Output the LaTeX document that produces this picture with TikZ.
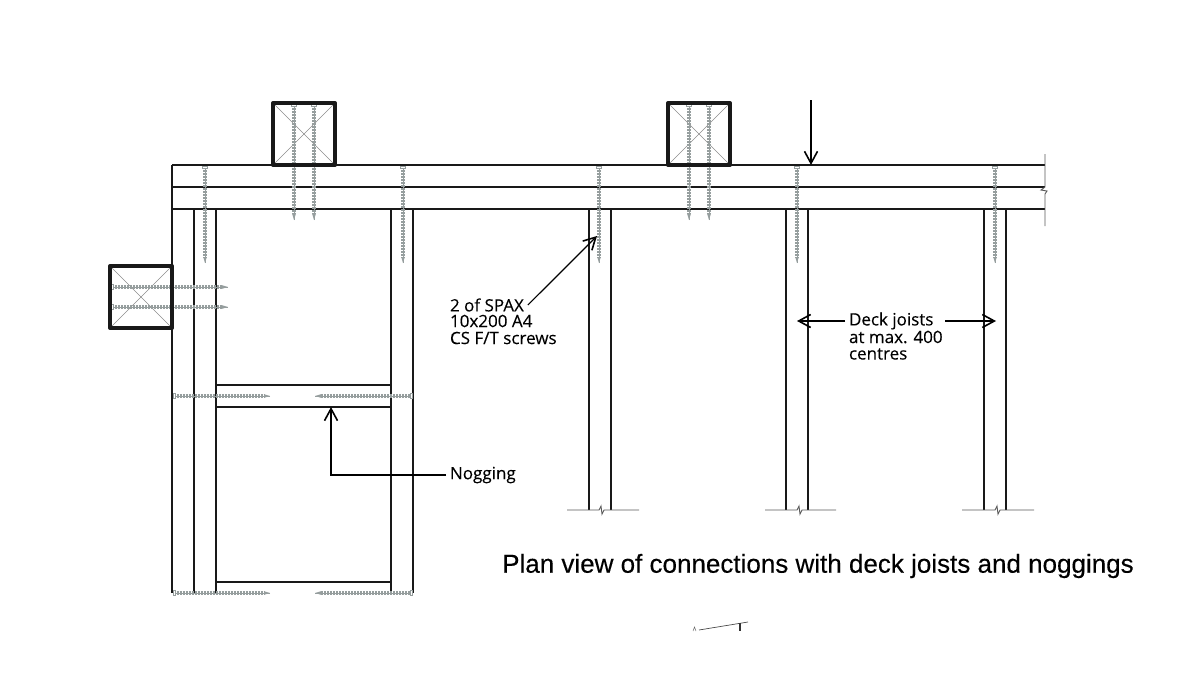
\documentclass[tikz,border=0pt]{standalone}
\usepackage{fontspec}
\setmainfont[FakeBold=0.2]{Open Sans}
\newfontfamily\titlefont[FakeBold=0.3]{Liberation Sans}
\usetikzlibrary{arrows.meta}
\definecolor{screwgrey}{RGB}{150,158,158}
\begin{document}
\begin{tikzpicture}[x=1pt,y=-1pt,>={Straight Barb[length=12pt,width=13pt,line width=1.6pt]},
    timber/.style={line width=1.6pt,black!90},
    post/.style={line width=4pt,black!90,line join=round},
    cross/.style={line width=0.5pt,black!45},
    leader/.style={line width=1.2pt},
    label text/.style={anchor=west,inner sep=0pt,outer sep=4pt,font=\fontsize{17}{18}\selectfont},
    break line/.style={line width=0.9pt,black!65},
    pics/screw/.style={code={
        \draw[line width=0.5pt,screwgrey] (0,-2.5) -- (2,-2.5) -- (2,2.5) -- (0,2.5) -- cycle;
        \draw[line width=4.2pt,screwgrey,dash pattern=on 0.9pt off 0.6pt] (2,0) -- (#1-6,0);
        \draw[line width=0.5pt,screwgrey] (2,0) -- (#1,0);
        \fill[screwgrey] (#1-6,-1.8) -- (#1,0) -- (#1-6,1.8) -- cycle;
    }}]

    \useasboundingbox (0,0) rectangle (1200,675);

    \draw[timber] (172,165) -- (1045,165);
    \draw[timber] (172,187) -- (1045,187);
    \draw[timber] (172,209) -- (1045,209);
    \draw[timber] (172,165) -- (172,593);
    \draw[timber] (194,209) -- (194,593);
    \draw[timber] (216,209) -- (216,593);
    \draw[timber] (391,209) -- (391,593);
    \draw[timber] (413,209) -- (413,593);
    \draw[timber] (589,209) -- (589,510);
    \draw[timber] (611,209) -- (611,510);
    \draw[timber] (786,209) -- (786,510);
    \draw[timber] (808,209) -- (808,510);
    \draw[timber] (984,209) -- (984,510);
    \draw[timber] (1006,209) -- (1006,510);
    \draw[timber] (216,385) -- (391,385);
    \draw[timber] (216,407) -- (391,407);
    \draw[timber] (216,582) -- (391,582);

    \draw[break line] (1045,154) -- (1045,187) -- (1041,190) -- (1047,191) -- (1045,194) -- (1045,226);
    \draw[break line] (567,510) -- (599,510) -- (601,506) -- (602,514) -- (604,510) -- (639,510);
    \draw[break line] (765,510) -- (797,510) -- (799,506) -- (800,514) -- (802,510) -- (836,510);
    \draw[break line] (962,510) -- (995,510) -- (997,506) -- (998,514) -- (1000,510) -- (1034,510);

    \draw[cross] (273,103) -- (335,165);
    \draw[cross] (335,103) -- (273,165);
    \draw[cross] (668,103) -- (730,165);
    \draw[cross] (730,103) -- (668,165);
    \draw[cross] (110,266) -- (172,328);
    \draw[cross] (172,266) -- (110,328);

    \pic[rotate=-90] at (205,166) {screw=97};
    \pic[rotate=-90] at (403,166) {screw=97};
    \pic[rotate=-90] at (599,166) {screw=97};
    \pic[rotate=-90] at (797,166) {screw=97};
    \pic[rotate=-90] at (995,166) {screw=97};
    \pic[rotate=-90] at (294,104) {screw=116};
    \pic[rotate=-90] at (314,104) {screw=116};
    \pic[rotate=-90] at (689,104) {screw=116};
    \pic[rotate=-90] at (709,104) {screw=116};
    \pic at (111,287) {screw=117};
    \pic at (111,307) {screw=117};
    \pic at (173,396) {screw=97};
    \pic at (173,593) {screw=97};
    \pic[rotate=180] at (412,396) {screw=97};
    \pic[rotate=180] at (412,593) {screw=97};

    \draw[post] (273,103) rectangle (335,165);
    \draw[post] (668,103) rectangle (730,165);
    \draw[post] (110,266) rectangle (172,328);

    \node[label text] (spax1) at (446,305) {2 of SPAX};
    \node[label text] (spax2) at (446,321) {10x200 A4};
    \node[label text] (spax3) at (446,338) {CS F/T screws};
    \node[label text] (deck1) at (845,321) {Deck joists};
    \node[label text] (deck2) at (845,337) {at max. 400};
    \node[label text] (deck3) at (845,354) {centres};
    \node[label text] (nogging) at (446,475) {Nogging};
    \node[anchor=west,inner sep=0pt,font=\titlefont\fontsize{26}{30}\selectfont] (title) at (502,566) {Plan view of connections with deck joists and noggings};

    \coordinate (spaxtip) at (597,236);
    \coordinate (decktail) at (945,321);
    \coordinate (decktipl) at (797,321);
    \coordinate (decktipr) at (996,321);
    \coordinate (nogtip) at (331,407);
    \coordinate (toptail) at (811,100);
    \coordinate (toptip) at (811,165);

    \draw[leader,->] (spax1.east) to (spaxtip);
    \draw[leader,->] (deck1.west) to (decktipl);
    \draw[leader,->] (decktail) to (decktipr);
    \draw[leader,->] (nogging.west) -| (nogtip);
    \draw[leader,->] (toptail) to (toptip);

    \draw[line width=0.7pt,black!70] (699,630) -- (748,622);
    \draw[line width=1.2pt,black!80] (740,623) -- (740,631);
    \draw[line width=0.5pt,black!60] (693,631) -- (694.5,627) -- (696,631);
\end{tikzpicture}
\end{document}
